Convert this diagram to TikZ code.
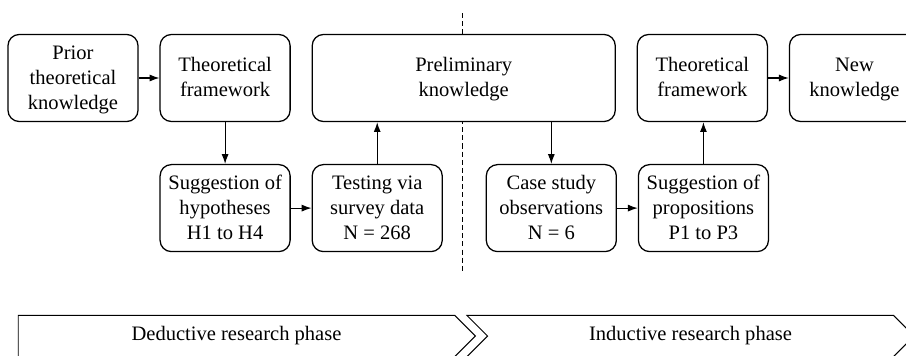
\documentclass[tikz,border=0pt]{standalone}
\usepackage{fontspec}
\setmainfont{Liberation Serif}
\usetikzlibrary{arrows.meta,positioning,shapes.symbols}

\begin{document}
\begin{tikzpicture}[
      x=0.025cm, y=-0.025cm,
      >={Latex[length=7pt,width=5pt]},
      box/.style={draw, fill=white, rounded corners=8pt, line width=0.9pt,
                  minimum width=3.25cm, minimum height=2.175cm,
                  align=center, inner sep=2pt, text depth=0.1em,
                  font=\fontsize{14.6}{17.8}\selectfont},
      phase/.style={draw, shape=signal, signal pointer angle=90,
                  line width=0.7pt, minimum height=1.03cm, inner sep=0pt,
                  font=\fontsize{14.6}{17.8}\selectfont},
      link/.style={->, line width=0.8pt}
    ]
      \useasboundingbox (0,0) rectangle (906,355);

      % split between the two phases (behind the boxes)
      \coordinate (splittop) at (462,13);
      \coordinate (splitbot) at (462,272);
      \draw[line width=0.7pt, dash pattern=on 3.6pt off 2.2pt] (splittop) -- (splitbot);

      \node[box] (prior) at (73,78) {Prior\\theoretical\\knowledge};
      \node[box, right=0.52cm of prior] (theo) {Theoretical\\framework};
      \node[box, minimum width=7.575cm, right=0.52cm of theo] (prelim) {Preliminary\\knowledge};
      \node[box, right=0.52cm of prelim] (theonew) {Theoretical\\framework};
      \node[box, right=0.52cm of theonew] (new) {New\\knowledge};

      \node[box, below=1.045cm of theo] (hyp) {Suggestion of\\hypotheses\\H1 to H4};
      \node[box, right=0.52cm of hyp] (test) {Testing via\\survey data\\N = 268};
      \node[box, right=1.07cm of test] (case) {Case study\\observations\\N = 6};
      \node[box, right=0.52cm of case] (prop) {Suggestion of\\propositions\\P1 to P3};

      \draw[link] (prior) -- (theo);
      \draw[link] (theo) -- (hyp);
      \draw[link] (hyp) -- (test);
      \draw[link] (test.north) -- (test.north |- prelim.south);
      \draw[link] (case.north |- prelim.south) -- (case.north);
      \draw[link] (case) -- (prop);
      \draw[link] (prop.north) -- (prop.north |- theonew.south);
      \draw[link] (theonew) -- (new);

      \node[phase, signal to=east, minimum width=11.425cm] (ded) at (236.5,336) {Deductive research phase};
      \node[phase, signal from=west, signal to=east, minimum width=11.175cm] (ind) at (690.5,336) {Inductive research phase};
\end{tikzpicture}
\end{document}
